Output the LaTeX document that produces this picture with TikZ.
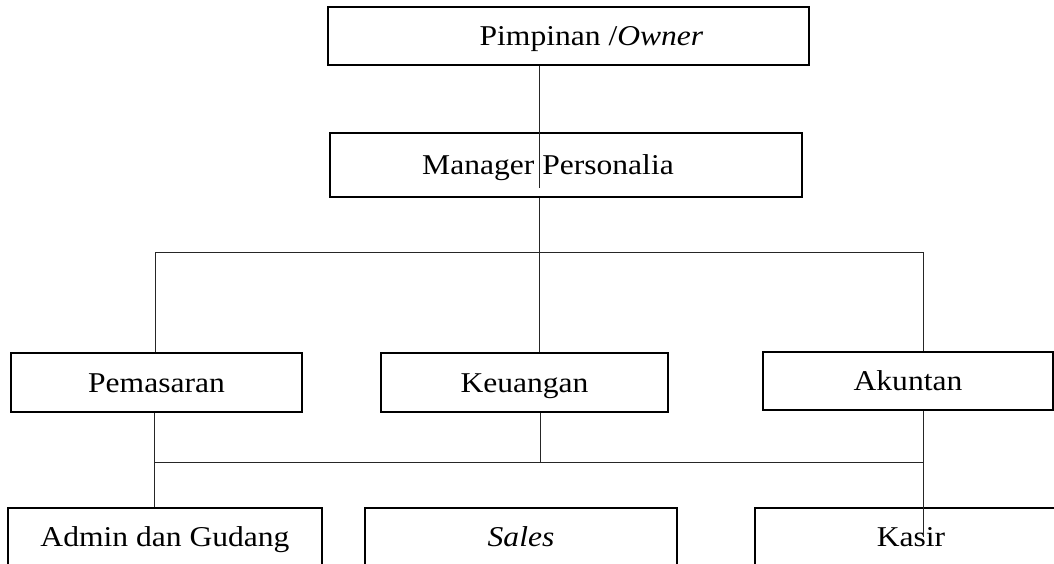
\documentclass[tikz,border=0pt]{standalone}
\usepackage{fontspec}
\setmainfont[FakeStretch=1.10]{Liberation Serif}
\begin{document}
\begin{tikzpicture}[x=1pt,y=-1pt,
  box/.style={draw=black, line width=2pt, inner sep=0pt, text height=19pt, text depth=0pt,
    font=\fontsize{28.7}{34}\selectfont},
  link/.style={draw=black!85, line width=0.9pt}]
\useasboundingbox (0,0) rectangle (1054,564);
\clip (0,0) rectangle (1054,564);
\node[box, minimum width=481pt, minimum height=58pt] (top) at (568.5,36) {\hspace*{46pt}Pimpinan /\textit{Owner}};
\node[box, minimum width=472pt, minimum height=64pt] (mgr) at (566,165) {Manager Personalia\hspace*{36pt}};
\node[box, minimum width=291pt, minimum height=59pt] (pem) at (156.5,382.5) {Pemasaran};
\node[box, minimum width=287pt, minimum height=59pt] (keu) at (524.5,382.5) {Keuangan};
\node[box, minimum width=290pt, minimum height=58pt] (aku) at (908,381) {Akuntan};
\node[box, minimum width=314pt, minimum height=58pt] (adm) at (165,537) {Admin dan Gudang};
\node[box, minimum width=312pt, minimum height=58pt] (sal) at (521,537) {\textit{Sales}};
\node[box, minimum width=312pt, minimum height=58pt] (kas) at (911,537) {Kasir};
\coordinate (cA) at (539,188);
\coordinate (b1L) at (155,252);
\coordinate (b1M) at (539,252);
\coordinate (b1R) at (923,252);
\coordinate (b2L) at (154,462);
\coordinate (b2M) at (540,462);
\coordinate (b2R) at (923,462);
\coordinate (kE) at (923,537);
\draw[link] (top.south -| cA) -- (cA);
\draw[link] (mgr.south -| b1M) -- (keu.north -| b1M);
\draw[link] (b1L) -- (b1R);
\draw[link] (b1L) -- (b1L |- pem.north);
\draw[link] (b1R) -- (b1R |- aku.north);
\draw[link] (keu.south -| b2M) -- (b2M);
\draw[link] (b2L) -- (b2R);
\draw[link] (pem.south -| b2L) -- (adm.north -| b2L);
\draw[link] (aku.south -| b2R) -- (kE);
\end{tikzpicture}
\end{document}
